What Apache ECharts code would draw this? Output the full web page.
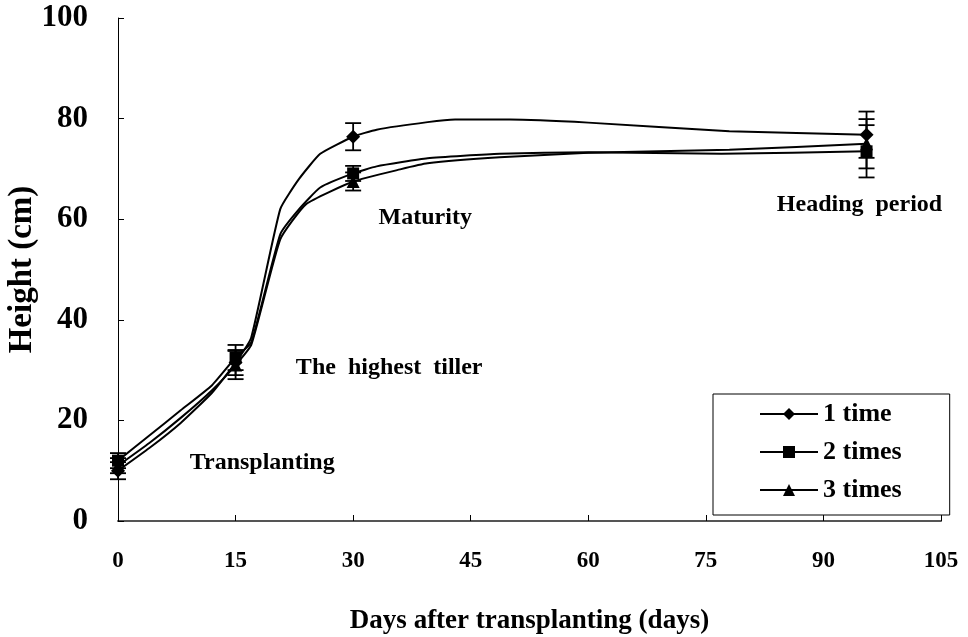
<!DOCTYPE html>
<html>
<head>
<meta charset="utf-8">
<script src="https://cdn.jsdelivr.net/npm/echarts@6/dist/echarts.min.js"></script>
<style>
  html, body { margin: 0; padding: 0; background: #fff; }
  #chart { width: 968px; height: 637px; }
</style>
</head>
<body>
<div id="chart"></div>
<script>
// Plant height growth curves (cm) against days after transplanting
const seriesNames = ['1 time', '2 times', '3 times'];
const xTicks = [0, 15, 30, 45, 60, 75, 90, 105];
const yTicks = [0, 20, 40, 60, 80, 100];

// Sampling days where each curve was measured (marker days shown with symbols)
const markerDays = [0, 15, 30, 95.5];

const days1 = [0, 4, 8, 12, 15, 17, 20.7, 23.1, 25.8, 30, 33, 39.5, 43, 50, 60, 78, 95.5];
const height1 = [10, 14.5, 19.5, 25.5, 31.5, 36.5, 62, 68, 73, 76.4, 77.8, 79.3, 79.8, 79.8, 79.2, 77.5, 76.8];

const days2 = [0, 4, 8, 12, 15, 17, 20.7, 23.1, 25.8, 30, 33, 39.5, 48.7, 60, 77, 95.5];
const height2 = [12, 17, 22, 27, 32.5, 35.5, 57, 62, 66.3, 69.1, 70.5, 72.1, 73.0, 73.3, 73.0, 73.5];

const days3 = [0, 4, 8, 12, 15, 17, 20.7, 24, 30, 36, 39.5, 48.7, 60, 78, 95.5];
const height3 = [11, 15.5, 20.5, 26, 31, 35, 56, 63, 67.5, 69.9, 71.1, 72.3, 73.2, 73.8, 75.0];

// Standard deviations at the marker days
const err1 = [1.7, 2.5, 2.7, 4.6];
const err2 = [1.5, 2.5, 1.5, 5.2];
const err3 = [1.5, 2.8, 1.8, 4.9];

// Growth stage notes: text and [day, height] anchor
const stageNotes = [
  ['Transplanting', 18.4, 11.5],
  ['The  highest  tiller', 34.6, 30.5],
  ['Maturity', 39.2, 60.2],
  ['Heading  period', 94.6, 62.8]
];

const symbols = ['diamond', 'rect', 'triangle'];
const symbolSizes = [14, 12, 13];
const fontFamily = '"Liberation Serif", "Times New Roman", serif';

function lineData(days, heights) {
  return days.map((d, i) => {
    const item = { value: [d, heights[i]] };
    if (markerDays.indexOf(d) < 0) item.symbol = 'none';
    return item;
  });
}
function errData(days, heights, errs) {
  return markerDays.map((d, i) => [d, heights[days.indexOf(d)], errs[i]]);
}

const allDays = [days1, days2, days3];
const allHeights = [height1, height2, height3];
const allErrs = [err1, err2, err3];

function renderErr(params, api) {
  const x = api.value(0), y = api.value(1), e = api.value(2);
  const top = api.coord([x, y + e]);
  const bot = api.coord([x, y - e]);
  const hw = 8;
  const style = { stroke: '#000', lineWidth: 1.8 };
  return {
    type: 'group',
    children: [
      { type: 'line', shape: { x1: top[0], y1: top[1], x2: bot[0], y2: bot[1] }, style },
      { type: 'line', shape: { x1: top[0] - hw, y1: top[1], x2: top[0] + hw, y2: top[1] }, style },
      { type: 'line', shape: { x1: bot[0] - hw, y1: bot[1], x2: bot[0] + hw, y2: bot[1] }, style }
    ]
  };
}

const series = [];
seriesNames.forEach((name, k) => {
  series.push({
    name: name,
    type: 'line',
    data: lineData(allDays[k], allHeights[k]),
    symbol: symbols[k],
    symbolSize: symbolSizes[k],
    showAllSymbol: true,
    smooth: 0.15,
    lineStyle: { color: '#000', width: 2 },
    itemStyle: { color: '#000' },
    z: 3
  });
});
seriesNames.forEach((name, k) => {
  series.push({
    type: 'custom',
    renderItem: renderErr,
    data: errData(allDays[k], allHeights[k], allErrs[k]),
    encode: { x: 0, y: 1 },
    silent: true,
    z: 2
  });
});

// Stage notes drawn as labels on invisible scatter points
series.push({
  type: 'scatter',
  silent: true,
  symbolSize: 1,
  itemStyle: { color: '#fff', opacity: 0 },
  data: stageNotes.map(n => ({ value: [n[1], n[2]], name: n[0] })),
  label: {
    show: true,
    position: 'inside',
    formatter: p => p.name,
    fontFamily, fontWeight: 'bold', fontSize: 24, color: '#000',
    textBorderWidth: 0, opacity: 1
  },
  z: 4
});

const option = {
  animation: false,
  backgroundColor: '#fff',
  grid: { left: 118, right: 27, top: 18, bottom: 116, containLabel: false, outerBoundsMode: 'none' },
  xAxis: {
    type: 'value',
    min: xTicks[0], max: xTicks[xTicks.length - 1], interval: 15,
    name: 'Days after transplanting (days)',
    nameLocation: 'middle', nameGap: 87, nameMoveOverlap: false,
    nameTextStyle: { fontFamily, fontWeight: 'bold', fontSize: 27, color: '#000' },
    axisLine: { lineStyle: { color: '#555', width: 2 } },
    axisTick: { inside: true, length: 6, lineStyle: { color: '#000' } },
    axisLabel: { margin: 29, fontFamily, fontWeight: 'bold', fontSize: 23, color: '#000' },
    splitLine: { show: false }
  },
  yAxis: {
    type: 'value',
    min: yTicks[0], max: yTicks[yTicks.length - 1], interval: 20,
    name: 'Height (cm)',
    nameLocation: 'middle', nameGap: 79, nameMoveOverlap: false,
    nameTextStyle: { fontFamily, fontWeight: 'bold', fontSize: 33, color: '#000' },
    axisLine: { lineStyle: { color: '#000', width: 1 } },
    axisTick: { inside: true, length: 6, lineStyle: { color: '#000' } },
    axisLabel: { margin: 30, fontFamily, fontWeight: 'bold', fontSize: 31, color: '#000' },
    splitLine: { show: false }
  },
  legend: {
    data: seriesNames,
    orient: 'vertical',
    left: 713, top: 394,
    padding: [7, 48, 12, 46],
    itemGap: 12,
    itemWidth: 58, itemHeight: 15,
    backgroundColor: '#fff',
    borderColor: '#000', borderWidth: 1,
    textStyle: { fontFamily, fontWeight: 'bold', fontSize: 26, color: '#000' }
  },
  series
};

const chart = echarts.init(document.getElementById('chart'), null, { renderer: 'canvas' });
chart.setOption(option);
</script>
</body>
</html>
